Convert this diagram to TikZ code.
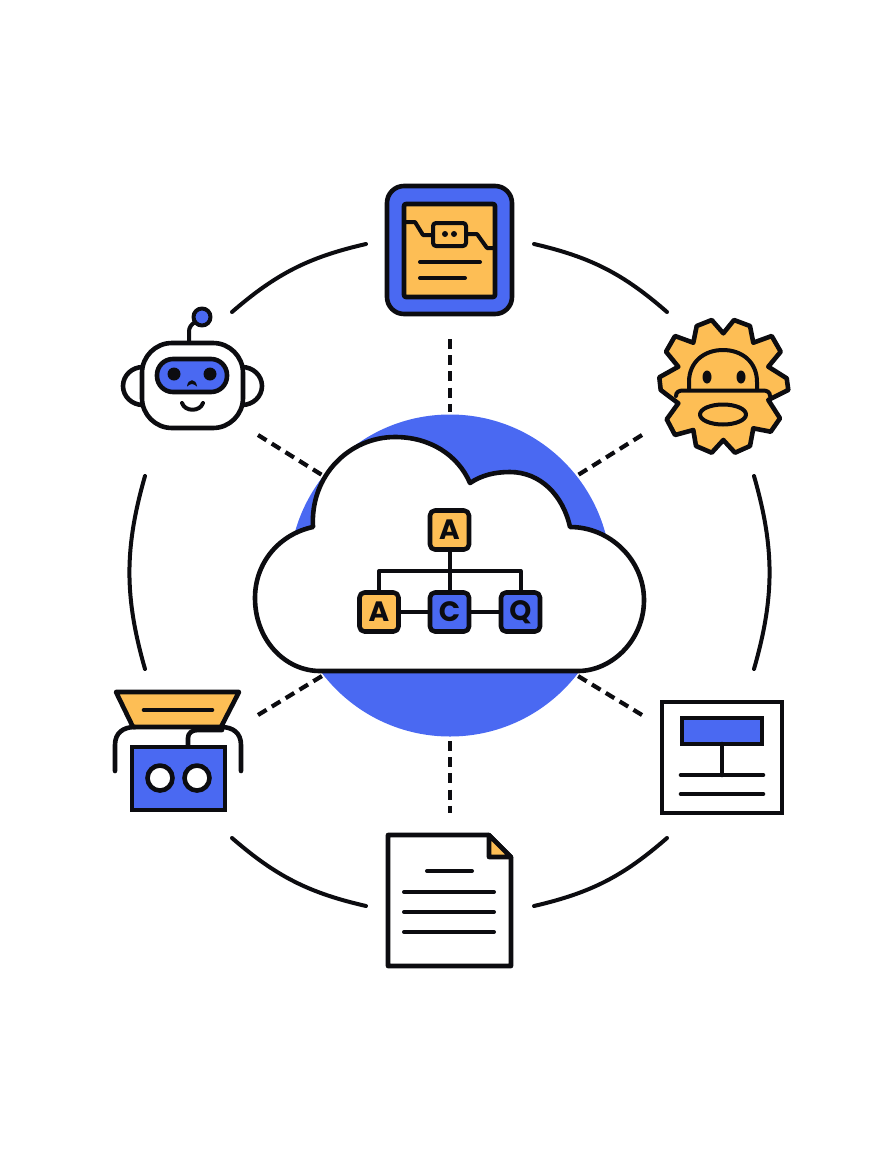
\documentclass[tikz,border=0pt]{standalone}
\usepackage{fontspec}
\setsansfont{Poppins}
\definecolor{iconblue}{HTML}{4A69F2}
\definecolor{iconyellow}{HTML}{FDBE55}
\definecolor{iconink}{HTML}{0C0C10}
\tikzset{
  iconline/.style={draw=iconink, line width=4.6pt, line join=round, line cap=round},
  thinline/.style={draw=iconink, line width=4pt, line join=round, line cap=round},
  ringarc/.style={draw=iconink, line width=4pt, line cap=round},
  spoke/.style={draw=iconink, line width=4.2pt, dash pattern=on 10pt off 6.2pt},
  letterbox/.style={iconline, rounded corners=5pt, minimum size=39pt, inner sep=0pt,
    font=\sffamily\bfseries\fontsize{28}{28}\selectfont, text=iconink}
}
\begin{document}
\begin{tikzpicture}[x=1pt, y=-1pt]
\useasboundingbox (0,0) rectangle (896,1152);

% Blue disc behind the cloud
\fill[iconblue] (450,575.5) circle (161);

% Spoke ends
\coordinate (topA) at (450,339);
\coordinate (topB) at (450,412);
\coordinate (botA) at (450,741);
\coordinate (botB) at (450,813);
\coordinate (nwA) at (258,435);
\coordinate (nwB) at (322,475);
\coordinate (neA) at (642,435);
\coordinate (neB) at (578,475);
\coordinate (swA) at (258,715);
\coordinate (swB) at (322,676);
\coordinate (seA) at (642,715);
\coordinate (seB) at (578,676);
\foreach \a/\b in {topA/topB, botA/botB, nwA/nwB, neA/neB, swA/swB, seA/seB} {
    \draw[spoke] (\a) -- (\b);
}

% Ring arcs
\coordinate (arcA) at (232,312);
\coordinate (arcB) at (366,244);
\coordinate (arcC) at (534,244);
\coordinate (arcD) at (667,312);
\coordinate (arcE) at (754,476);
\coordinate (arcF) at (754,669);
\coordinate (arcG) at (667,838);
\coordinate (arcH) at (534,906);
\coordinate (arcI) at (366,906);
\coordinate (arcJ) at (232,838);
\coordinate (arcK) at (145,669);
\coordinate (arcL) at (145,476);
\foreach \a/\b in {arcA/arcB, arcC/arcD, arcG/arcH, arcI/arcJ} {
    \draw[ringarc] (\a) to[bend left=14] (\b);
}
\foreach \a/\b in {arcE/arcF, arcK/arcL} {
    \draw[ringarc] (\a) to[bend left=16] (\b);
}

% Cloud
\draw[iconline, fill=white] (320,671)
    .. controls (285,671) and (255,640) .. (255,598)
    .. controls (255,562) and (280,534) .. (313,527)
    .. controls (310,475) and (350,437) .. (395,437)
    .. controls (430,437) and (458,455) .. (470,483)
    .. controls (482,475) and (495,472) .. (510,472)
    .. controls (540,472) and (563,495) .. (570,527)
    .. controls (610,527) and (644,560) .. (644,600)
    .. controls (644,640) and (612,671) .. (578,671) -- cycle;

% Tree inside the cloud
\node[letterbox, fill=iconyellow] (rootA) at (449.5,530) {A};
\node[letterbox, fill=iconyellow] (leafA) at (379,612) {A};
\node[letterbox, fill=iconblue] (leafC) at (449.5,612) {C};
\node[letterbox, fill=iconblue] (leafQ) at (520.5,612) {Q};
\coordinate (bus) at (449.5,571);
\draw[thinline, line cap=butt] (rootA) -- (leafC);
\draw[thinline, line cap=butt] (leafA.north) |- (bus) -| (leafQ.north);
\draw[thinline, line cap=butt] (leafA) -- (leafC);
\draw[thinline, line cap=butt] (leafC) -- (leafQ);

% Top icon: map card
\draw[iconline, fill=iconblue, rounded corners=17pt] (387,186) rectangle (512,314);
\draw[iconline, fill=iconyellow, rounded corners=2pt] (404,204) rectangle (495,297);
\draw[thinline] (406,222) -- (415,222) -- (423,235) -- (433,235);
\draw[thinline] (466,234) -- (477,234) -- (487,248) -- (494,248);
\draw[thinline, fill=iconyellow, rounded corners=3pt] (433,223) rectangle (466,246);
\fill[iconink] (445,234) circle (3) (454,234) circle (3);
\draw[thinline] (420,262) -- (480,262);
\draw[thinline] (420,278) -- (465,278);

% Right icon: gear with a face
\draw[iconline, fill=iconyellow] (723.3,333.3) -- (734,320) -- (750,326) -- (753.3,342.7)
    -- (771.7,336) -- (780.7,351.7) -- (768.3,366.7) -- (786.7,378.3) -- (788.3,390)
    -- (768.3,400) -- (780,418.3) -- (770.7,431.7) -- (753.3,428.3) -- (750,446)
    -- (735,452.7) -- (723.3,440) -- (711.7,452.7) -- (696,446) -- (693.3,430)
    -- (675,435) -- (666.7,419.3) -- (678.3,403.3) -- (660.7,390) -- (659.3,377.3)
    -- (678.3,366.7) -- (666,351.7) -- (675,336) -- (693.3,342.7) -- (696.7,326)
    -- (711.7,320) -- cycle;
\draw[thinline] (689,390) -- (689,382) .. controls (689,362) and (704,350) .. (723,350)
    .. controls (742,350) and (757,362) .. (757,382) -- (757,390);
\draw[thinline] (676,396) .. controls (676,392) and (679,390.5) .. (683,390.5) -- (763,390.5)
    .. controls (767,390.5) and (770,392) .. (770,396);
\fill[iconink] (707,377) ellipse (4.5 and 6.5) (741,377) ellipse (4.5 and 6.5);
\draw[thinline] (723,414.5) ellipse (23 and 10);

% Left icon: robot
\draw[thinline] (189,343) -- (189,332) .. controls (189,327) and (191,325) .. (195,322);
\draw[thinline, fill=iconblue] (202,317) circle (8.5);
\draw[iconline, fill=white] (143,386) ellipse (20 and 19);
\draw[iconline, fill=white] (242,386) ellipse (20 and 19);
\draw[iconline, fill=white, rounded corners=30pt] (142,343) rectangle (243,428);
\draw[iconline, fill=iconblue, rounded corners=16pt] (157,359) rectangle (227,392);
\fill[iconink] (174,374) circle (6.5) (210,374) circle (6.5);
\fill[iconink] (187,386.5) .. controls (188,378) and (196,378) .. (197,386.5)
    .. controls (195,385) and (193.5,384) .. (192,384) .. controls (190.5,384) and (189,385) .. (187,386.5) -- cycle;
\draw[thinline] (182,403) .. controls (185,412) and (200,412) .. (203,403);

% Lower left icon: funnel over a box
\draw[iconline, fill=iconyellow] (116,692) -- (239,692) -- (221,727) -- (133,727) -- cycle;
\draw[iconline] (144,710) -- (212,710);
\draw[iconline] (115,771) -- (115,745) .. controls (115,733) and (123,727) .. (135,727);
\draw[iconline] (241,771) -- (241,745) .. controls (241,733) and (233,727) .. (221,727);
\draw[iconline] (188,747) -- (188,738) .. controls (188,733) and (192,730) .. (198,730) -- (222,730);
\draw[iconline, fill=iconblue, line join=miter] (132,747) rectangle (225,810);
\draw[iconline, fill=white] (160,778) circle (12.5);
\draw[iconline, fill=white] (197,778) circle (12.5);

% Lower right icon: sheet with a bar
\draw[iconline, fill=white, line join=miter] (662,702) rectangle (782,813);
\draw[iconline, fill=iconblue, line join=miter] (682,718) rectangle (762,744);
\draw[iconline] (722,744) -- (722,775);
\draw[iconline] (681,775) -- (763,775);
\draw[iconline] (681,794) -- (763,794);

% Bottom icon: page
\draw[iconline, fill=white] (388,835) -- (489,835) -- (511,857) -- (511,966) -- (388,966) -- cycle;
\draw[iconline, fill=iconyellow] (489,835) -- (489,857) -- (511,857) -- cycle;
\draw[thinline] (427,871) -- (472,871);
\foreach \y in {892,912,932} {
    \draw[thinline] (404,\y) -- (494,\y);
}

\end{tikzpicture}
\end{document}
